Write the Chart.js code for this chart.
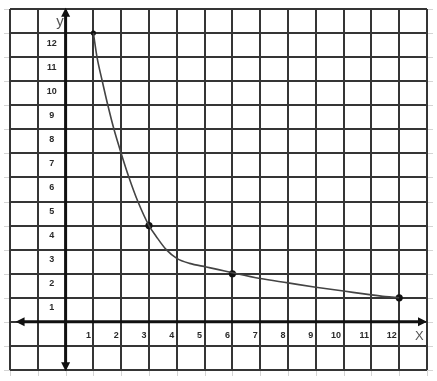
<!DOCTYPE html>
<html>
<head>
<meta charset="utf-8">
<script src="https://cdn.jsdelivr.net/npm/chart.js@4"></script>
<style>
  html, body { margin: 0; padding: 0; background: #fff; }
  .chart-container { width: 437px; height: 381px; }
</style>
</head>
<body>
<div class="chart-container"><canvas id="myChart"></canvas></div>
<script>
// tick labels along the axes
const xTickLabels = ['1', '2', '3', '4', '5', '6', '7', '8', '9', '10', '11', '12'];
const yTickLabels = ['1', '2', '3', '4', '5', '6', '7', '8', '9', '10', '11', '12'];

// the four plotted points
const pointX = [1, 3, 6, 12];
const pointY = [12, 4, 2, 1];

// the drawn curve
const curveX = [1, 1.13, 1.32, 1.52, 1.74, 2.0, 2.28, 2.6, 3, 3.26, 3.62, 4, 4.46, 5.06, 5.5, 6, 7, 8, 9, 10, 11, 11.5, 12];
const curveY = [12, 11, 10, 9, 8, 7, 6, 5, 4, 3.55, 3.0, 2.64, 2.43, 2.28, 2.17, 2.04, 1.80, 1.62, 1.44, 1.28, 1.12, 1.05, 1.0];

const axisMin = -2;
const axisMax = 13;

const drawArrow = (ctx, x, y, dir) => {
    const len = 9, half = 4.5;
    ctx.beginPath();
    if (dir === 'up') { ctx.moveTo(x, y); ctx.lineTo(x - half, y + len); ctx.lineTo(x + half, y + len); }
    if (dir === 'down') { ctx.moveTo(x, y); ctx.lineTo(x - half, y - len); ctx.lineTo(x + half, y - len); }
    if (dir === 'left') { ctx.moveTo(x, y); ctx.lineTo(x + len, y - half); ctx.lineTo(x + len, y + half); }
    if (dir === 'right') { ctx.moveTo(x, y); ctx.lineTo(x - len, y - half); ctx.lineTo(x - len, y + half); }
    ctx.closePath();
    ctx.fill();
};

const graphPaper = {
    id: 'graphPaper',
    beforeDraw(chart) {
        // faint stubs where the paper grid runs past the border
        const { ctx, chartArea: area, scales: { x, y } } = chart;
        ctx.save();
        ctx.strokeStyle = '#d4d4d4';
        ctx.lineWidth = 1;
        for (let v = axisMin; v <= axisMax; v++) {
            const py = Math.round(y.getPixelForValue(v)) + 0.5;
            const px = Math.round(x.getPixelForValue(v)) + 0.5;
            ctx.beginPath();
            ctx.moveTo(area.left - 6, py); ctx.lineTo(area.right + 6, py);
            ctx.moveTo(px, area.top); ctx.lineTo(px, area.bottom + 6);
            ctx.stroke();
        }
        ctx.restore();
    },
    beforeDatasetsDraw(chart) {
        const { ctx, scales: { x, y } } = chart;
        const x0 = x.getPixelForValue(0);
        const y0 = y.getPixelForValue(0);
        ctx.save();
        // axes with arrows
        ctx.strokeStyle = '#111';
        ctx.fillStyle = '#111';
        ctx.lineWidth = 3;
        const top = y.getPixelForValue(13.05), bottom = y.getPixelForValue(-2.05);
        const left = x.getPixelForValue(-1.8), right = x.getPixelForValue(13);
        ctx.beginPath();
        ctx.moveTo(x0, top + 4); ctx.lineTo(x0, bottom - 4);
        ctx.moveTo(left + 4, y0); ctx.lineTo(right - 4, y0);
        ctx.stroke();
        drawArrow(ctx, x0, top, 'up');
        drawArrow(ctx, x0, bottom, 'down');
        drawArrow(ctx, left, y0, 'left');
        drawArrow(ctx, right, y0, 'right');

        // tick numbers
        ctx.fillStyle = '#2a2a2a';
        ctx.font = 'bold 9px "Liberation Sans", Arial, sans-serif';
        ctx.textBaseline = 'middle';
        ctx.textAlign = 'right';
        xTickLabels.forEach(label => {
            const v = Number(label);
            ctx.fillText(label, x.getPixelForValue(v) - 2.5, y.getPixelForValue(-0.55));
        });
        ctx.textAlign = 'center';
        yTickLabels.forEach(label => {
            const v = Number(label);
            ctx.fillText(label, x.getPixelForValue(-0.5), y.getPixelForValue(v - 0.42));
        });

        // axis names
        ctx.fillStyle = '#555';
        ctx.font = '15px "Liberation Sans", Arial, sans-serif';
        ctx.fillText('y', x.getPixelForValue(-0.2), y.getPixelForValue(12.45));
        ctx.font = '13px "Liberation Sans", Arial, sans-serif';
        ctx.fillText('X', x.getPixelForValue(12.72), y.getPixelForValue(-0.6));
        ctx.restore();
    }
};

const curveData = curveX.map((v, i) => ({ x: v, y: curveY[i] }));
const pointData = pointX.map((v, i) => ({ x: v, y: pointY[i] }));

const gridOptions = {
    color: '#353535',
    lineWidth: 2,
    drawTicks: false,
};

const configChart = {
    type: 'scatter',
    data: {
        datasets: [
            {
                label: 'curve',
                data: curveData,
                showLine: true,
                borderColor: '#444',
                borderWidth: 1.6,
                pointRadius: 0,
                cubicInterpolationMode: 'monotone',
                fill: false,
            },
            {
                label: 'points',
                data: pointData,
                pointRadius: [2.6, 3.6, 3.6, 3.6],
                backgroundColor: '#111',
                borderWidth: 0,
            },
        ],
    },
    options: {
        responsive: true,
        maintainAspectRatio: false,
        animation: false,
        layout: { padding: { left: 10, right: 10, top: 9, bottom: 11 } },
        plugins: { legend: { display: false }, tooltip: { enabled: false } },
        scales: {
            x: {
                type: 'linear',
                min: axisMin,
                max: axisMax,
                ticks: { display: false, stepSize: 1 },
                grid: gridOptions,
                border: { display: false },
            },
            y: {
                type: 'linear',
                min: axisMin,
                max: axisMax,
                ticks: { display: false, stepSize: 1 },
                grid: gridOptions,
                border: { display: false },
            },
        },
    },
    plugins: [graphPaper],
};

const myChart = new Chart(document.getElementById('myChart'), configChart);
</script>
</body>
</html>
